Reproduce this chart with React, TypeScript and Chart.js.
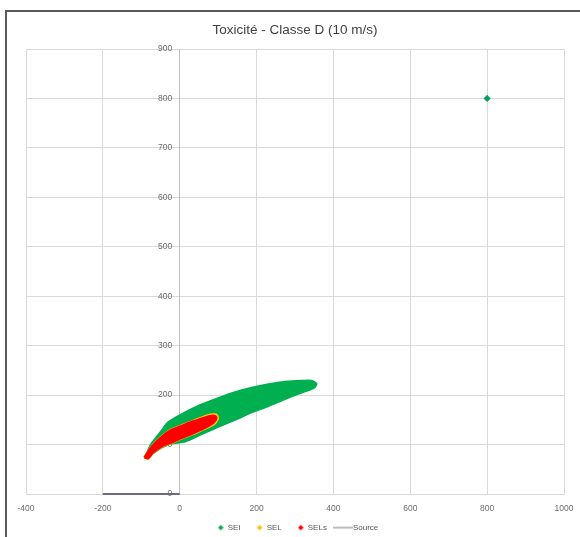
import React, { useEffect, useRef } from 'react';
import { Chart, registerables } from 'chart.js';

Chart.register(...registerables);

const TITLE = 'Toxicité - Classe D (10 m/s)';
const FONT = "'Liberation Sans', Arial, sans-serif";

const X_MIN = -400;
const X_MAX = 1000;
const X_STEP = 200;
const Y_MIN = 0;
const Y_MAX = 900;
const Y_STEP = 100;

const seriesNames = ['SEI', 'SEL', 'SELs', 'Source'];
const seriesColors = ['#00B050', '#FFC000', '#FF0000', '#6B6B80'];

// SEI (green) zone outline
const seiX = [-90, -75, -50, -30, 14, 57, 100, 144, 187, 231, 274, 317, 343, 356, 348, 317, 274, 231, 187, 144, 100, 57, 14, -21, -47, -70, -90];
const seiY = [75, 100, 125, 145, 165, 181, 194, 206, 215, 222, 227, 229, 229, 223, 214, 205, 192, 178, 165, 150, 136, 121, 106, 102, 94, 82, 75];

// SEL (yellow) zone outline
const selX = [-93, -73, -47, -21, 5, 31, 57, 80, 95, 100, 90, 57, 31, 5, -21, -47, -69, -83, -93];
const selY = [74, 97, 117, 131, 139, 147, 155, 161, 161, 153, 141, 129, 120, 112, 103, 95, 83, 71, 74];

// SELs (red) zone outline
const selsX = [-92, -73, -47, -21, 5, 31, 57, 79, 92, 96, 87, 57, 31, 5, -21, -47, -69, -82, -92];
const selsY = [74, 96, 116, 130, 138, 146, 153, 158, 158, 153, 143, 130, 121, 113, 104, 96, 84, 72, 74];

// Source segment
const sourceX = [-200, 0];
const sourceY = [0, 0];

// isolated SEI marker
const markerX = [800];
const markerY = [800];

const pts = (xs: number[], ys: number[]) => xs.map((x, i) => ({ x, y: ys[i] }));

function diamondGlyph(color: string) {
  const c = document.createElement('canvas');
  c.width = 12;
  c.height = 8;
  const g = c.getContext('2d')!;
  g.fillStyle = color;
  const cx = 9, cy = 4, r = 2.8;
  g.beginPath();
  g.moveTo(cx, cy - r);
  g.lineTo(cx + r, cy);
  g.lineTo(cx, cy + r);
  g.lineTo(cx - r, cy);
  g.closePath();
  g.fill();
  return c;
}

function lineGlyph(color: string) {
  const c = document.createElement('canvas');
  c.width = 20;
  c.height = 4;
  const g = c.getContext('2d')!;
  g.fillStyle = color;
  g.fillRect(0, 1.5, 20, 1);
  return c;
}

export default function App() {
  const ref = useRef<HTMLCanvasElement>(null);

  useEffect(() => {
    if (!ref.current) return;
    const glyphs = [
      diamondGlyph(seriesColors[0]),
      diamondGlyph(seriesColors[1]),
      diamondGlyph(seriesColors[2]),
      lineGlyph('#7F7F7F'),
    ];
    const zone = (i: number, xs: number[], ys: number[], order: number) => ({
      label: seriesNames[i],
      data: pts(xs, ys),
      showLine: true,
      fill: 'shape',
      borderColor: seriesColors[i],
      backgroundColor: seriesColors[i],
      borderWidth: 2,
      pointRadius: 0,
      tension: 0.25,
      order,
    });
    const tickFont = { family: FONT, size: 8.5 };
    const chart = new Chart(ref.current, {
      type: 'scatter',
      data: {
        datasets: [
          zone(0, seiX, seiY, 3),
          zone(1, selX, selY, 2),
          zone(2, selsX, selsY, 1),
          {
            label: seriesNames[3],
            data: pts(sourceX, sourceY),
            showLine: true,
            borderColor: seriesColors[3],
            backgroundColor: seriesColors[3],
            borderWidth: 2,
            pointRadius: 0,
            clip: false,
            order: 0,
          },
          {
            label: '_marker',
            data: pts(markerX, markerY),
            pointStyle: 'rectRot',
            pointRadius: 3.6,
            backgroundColor: '#00A060',
            borderColor: '#00A060',
            borderWidth: 0,
            order: 0,
          },
        ] as any,
      },
      options: {
        responsive: false,
        animation: false,
        devicePixelRatio: 1,
        layout: { padding: { left: 26, right: 16, top: 10, bottom: -4.6 } },
        plugins: {
          title: {
            display: true,
            text: TITLE,
            color: '#404040',
            font: { family: FONT, size: 13.5, weight: 'normal' },
            padding: { top: 12, bottom: 10.8 },
          },
          legend: {
            position: 'bottom',
            labels: {
              usePointStyle: true,
              pointStyleWidth: 12,
              padding: 10,
              color: '#595959',
              font: { family: FONT, size: 8 },
              filter: (item: any) => item.text !== '_marker',
              sort: (a: any, b: any) => a.datasetIndex - b.datasetIndex,
              generateLabels: (c: any) =>
                (Chart.defaults.plugins.legend.labels as any)
                  .generateLabels(c)
                  .map((it: any) => ({ ...it, pointStyle: glyphs[it.datasetIndex] || it.pointStyle })),
            },
          },
          tooltip: { enabled: false },
        },
        scales: {
          x: {
            type: 'linear',
            min: X_MIN,
            max: X_MAX,
            ticks: {
              stepSize: X_STEP,
              color: '#6B6B6B',
              font: tickFont,
              padding: 0,
              format: { useGrouping: false },
            },
            grid: { color: '#D9D9D9', drawTicks: true, tickLength: 9.4, tickColor: 'rgba(0,0,0,0)' },
            border: { color: '#D9D9D9' },
          },
          y: {
            type: 'linear',
            position: { x: 0 } as any,
            min: Y_MIN,
            max: Y_MAX,
            ticks: { stepSize: Y_STEP, display: false },
            grid: { color: '#D9D9D9', drawTicks: false },
            border: { color: '#BFBFBF' },
          },
          yLabels: {
            type: 'linear',
            position: { x: -19.5 } as any,
            min: Y_MIN,
            max: Y_MAX,
            ticks: { stepSize: Y_STEP, color: '#6B6B6B', font: tickFont, format: { useGrouping: false } },
            grid: { display: false, drawTicks: false },
            border: { display: false },
          },
        },
      } as any,
    });
    return () => chart.destroy();
  }, []);

  return (
    <div style={{ position: 'absolute', left: 0, top: 0, width: 580, height: 537, overflow: 'hidden', background: '#fff' }}>
      <canvas ref={ref} width={580} height={537} style={{ position: 'absolute', left: 0, top: 0, display: 'block' }} />
      <div
        style={{
          position: 'absolute',
          left: 5,
          top: 10,
          width: 700,
          height: 700,
          border: '2px solid #5A5A5A',
          pointerEvents: 'none',
        }}
      />
    </div>
  );
}
